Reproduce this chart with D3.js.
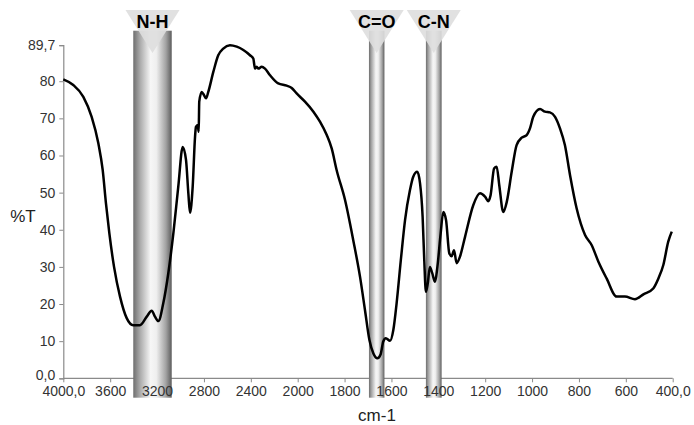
<!DOCTYPE html>
<html>
<head>
<meta charset="utf-8">
<script src="https://cdn.jsdelivr.net/npm/d3@7"></script>
<style>
  body { margin: 0; background: #fff; }
  svg text { font-family: "Liberation Sans", Arial, sans-serif; }
</style>
</head>
<body>
<div id="chart"></div>
<script>
// wavenumbers (cm-1) and transmittance (%T)
var wavenumbers = [4000, 3915, 3829, 3758, 3701, 3664, 3636, 3607, 3567, 3516, 3459, 3403, 3346, 3288, 3246, 3218, 3189, 3147, 3104, 3061, 3019, 2981, 2953, 2933, 2919, 2896, 2876, 2868, 2853, 2845, 2840, 2819, 2800, 2782, 2763, 2720, 2678, 2635, 2578, 2520, 2464, 2407, 2379, 2364, 2350, 2336, 2307, 2279, 2236, 2166, 2094, 2051, 2009,
  1969, 1933, 1905, 1876, 1855, 1834, 1798, 1763, 1734, 1713, 1694, 1677, 1660, 1646, 1635, 1624, 1606, 1592, 1578, 1560, 1542, 1521, 1507, 1490, 1478, 1467, 1460, 1453, 1445, 1436, 1426, 1414, 1404, 1390, 1379, 1367, 1353, 1343, 1333, 1322, 1308, 1286, 1251, 1222, 1201, 1187, 1177, 1162, 1151, 1140, 1123, 1108, 1087, 1066, 1044, 1023, 1009, 995, 966, 945, 924, 902, 881, 860, 838, 810, 774, 746, 717, 682, 639, 604, 561, 525, 483, 461, 440, 419, 404];
var transmittance = [80.5, 79.0, 75.8, 70.4, 63.3, 56.1, 47.1, 39.0, 30.0, 22.0, 16.2, 14.3, 14.3, 16.6, 18.2, 16.6, 15.4, 20.2, 28.3, 39.0, 51.6, 62.3, 58.8, 49.8, 44.6, 51.6, 65.0, 67.7, 68.2, 66.4, 74.5, 77.1, 76.3, 75.4, 77.1, 82.5, 87.0, 88.8, 89.7, 89.3, 88.4, 87.0, 86.1, 83.4, 83.9, 83.4, 83.9, 83.4, 81.6, 79.4, 78.8, 78.2, 76.7,
  74.5, 71.8, 69.1, 65.5, 61.9, 56.1, 48.0, 37.2, 27.3, 18.4, 10.3, 6.7, 5.4, 6.5, 9.9, 10.8, 10.1, 13.0, 20.2, 31.8, 42.6, 50.7, 54.3, 55.6, 52.5, 43.5, 31.8, 23.3, 25.6, 30.0, 28.3, 26.0, 30.0, 39.0, 44.8, 42.6, 33.6, 32.9, 34.5, 31.0, 32.7, 38.1, 46.6, 49.8, 48.9, 47.7, 49.3, 56.5, 57.0, 52.0, 44.8, 47.5, 55.6, 62.8, 64.8, 65.5, 67.3, 70.4, 72.5, 71.8, 71.6, 70.4, 67.3, 62.8, 54.7, 45.8, 38.6, 35.9, 31.4, 26.9, 22.0, 22.0, 21.3, 22.6, 24.2, 26.9, 30.5, 36.8, 39.5];

// highlighted absorption bands
var bandLabels = ["N-H", "C=O", "C-N"];
var bandStart = [3403, 1696, 1453];
var bandEnd = [3075, 1630, 1386];

var xTicks = [4000, 3600, 3200, 2800, 2400, 2000, 1800, 1600, 1400, 1200, 1000, 800, 600, 400];
var yTicks = [0, 10, 20, 30, 40, 50, 60, 70, 80, 89.7];

var width = 694, height = 425;

var svg = d3.select("#chart")
            .append("svg")
            .attr("width", width)
            .attr("height", height);

// x scale changes step at 2000 cm-1 like the instrument plot
var x = d3.scaleLinear()
          .domain([4000, 2000, 400])
          .range([63.3, 297.7, 672.7]);

var y = d3.scaleLinear()
          .domain([0, 89.7])
          .range([378.3, 45.2]);

var grad = svg.append("defs")
              .append("linearGradient")
              .attr("id", "bandGrad")
              .attr("x1", "0%").attr("x2", "100%")
              .attr("y1", "0%").attr("y2", "0%");

[["0%", "#6e6e6e"], ["18%", "#ababab"], ["45%", "#f6f6f6"], ["60%", "#efefef"], ["85%", "#a2a2a2"], ["100%", "#5c5c5c"]]
  .forEach(function(s){
    grad.append("stop").attr("offset", s[0]).attr("stop-color", s[1]);
  });

//axes
var xAxis = svg.append("g")
               .attr("transform", "translate(0," + y(0) + ")")
               .call(d3.axisBottom(x)
                       .tickValues(xTicks)
                       .tickSize(4)
                       .tickPadding(4)
                       .tickFormat(function(d){ return (d == 4000 || d == 400) ? d + ",0" : d; }));

var yAxis = svg.append("g")
               .attr("transform", "translate(" + x(4000) + ",0)")
               .call(d3.axisLeft(y)
                       .tickValues(yTicks)
                       .tickSize(4)
                       .tickPadding(4)
                       .tickFormat(function(d){ return d == 0 ? "0,0" : (d == 89.7 ? "89,7" : d); }));

[xAxis, yAxis].forEach(function(a){
  a.select(".domain").attr("stroke", "#8a8a8a").attr("stroke-width", 1.2);
  a.selectAll(".tick line").attr("stroke", "#8a8a8a");
  a.selectAll(".tick text")
   .attr("fill", "#333")
   .style("font-size", "14px");
});
// the 0,0 label sits a little higher so it clears 4000,0
yAxis.selectAll(".tick text").filter(function(d){ return d == 0; }).attr("dy", "0.1em");

//bands
var bands = svg.append("g");
bandLabels.forEach(function(lbl, i){
  var x0 = x(bandStart[i]), x1 = x(bandEnd[i]);
  var cx = (x0 + x1) / 2;
  bands.append("rect")
       .attr("x", x0)
       .attr("y", 30.7)
       .attr("width", x1 - x0)
       .attr("height", 397.7 - 30.7)
       .attr("fill", "url(#bandGrad)");
  bands.append("path")
       .attr("d", "M" + (cx - 27) + ",10 L" + (cx + 27) + ",10 L" + cx + ",53 Z")
       .attr("fill", "#dedede")
       .attr("opacity", 0.9);
  bands.append("text")
       .attr("x", cx)
       .attr("y", 28)
       .attr("text-anchor", "middle")
       .style("font-size", "18px")
       .style("font-weight", "bold")
       .attr("fill", "#000")
       .text(lbl);
});

// tick labels sit on top of the bands
xAxis.raise();
xAxis.select(".domain").remove();
xAxis.selectAll(".tick line").remove();
svg.insert("line", "g")
   .attr("x1", x(4000)).attr("x2", x(400))
   .attr("y1", y(0)).attr("y2", y(0))
   .attr("stroke", "#8a8a8a")
   .attr("stroke-width", 1.2);
svg.insert("g", "g")
   .selectAll("line")
   .data(xTicks)
   .join("line")
   .attr("x1", function(d){ return x(d) + 0.5; })
   .attr("x2", function(d){ return x(d) + 0.5; })
   .attr("y1", y(0))
   .attr("y2", y(0) + 4)
   .attr("stroke", "#8a8a8a");

//spectrum line
var line = d3.line()
             .x(function(d){ return x(d[0]); })
             .y(function(d){ return y(d[1]); })
             .curve(d3.curveMonotoneX);

svg.append("path")
   .datum(d3.zip(wavenumbers, transmittance))
   .attr("d", line)
   .attr("fill", "none")
   .attr("stroke", "#000")
   .attr("stroke-width", 2.5)
   .attr("stroke-linejoin", "round");

//axis titles
svg.append("text")
   .attr("x", 23)
   .attr("y", 222)
   .attr("text-anchor", "middle")
   .style("font-size", "17px")
   .attr("fill", "#222")
   .text("%T");

svg.append("text")
   .attr("x", 377)
   .attr("y", 421)
   .attr("text-anchor", "middle")
   .style("font-size", "17px")
   .attr("fill", "#222")
   .text("cm-1");
</script>
</body>
</html>
